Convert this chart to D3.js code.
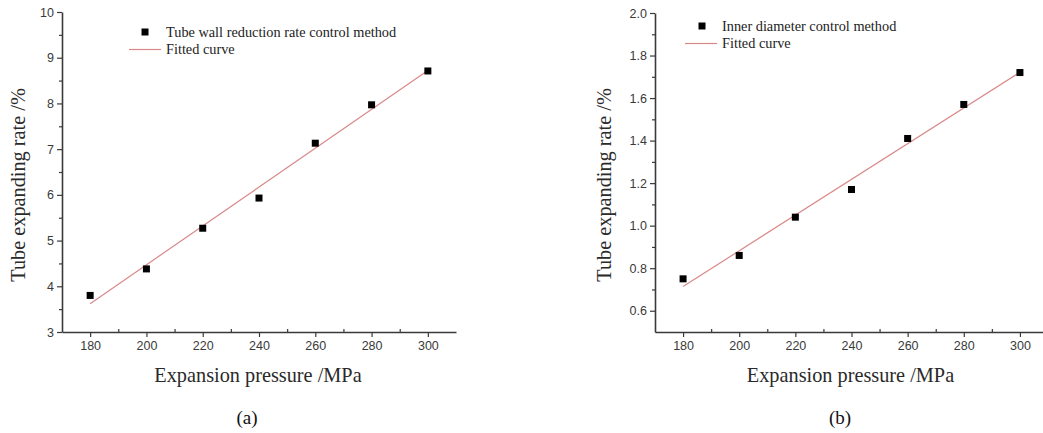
<!DOCTYPE html>
<html>
<head>
<meta charset="utf-8">
<script src="https://cdn.jsdelivr.net/npm/d3@7"></script>
<style>
  body { margin: 0; background: #fff; }
  .tick text { font-family: "Liberation Sans", Arial, sans-serif; font-size: 12.5px; fill: #3a3a3a; }
  .domain, .tick line { stroke: #3a3a3a; }
  .axisTitle { font-family: "Liberation Serif", "Times New Roman", serif; font-size: 20.3px; fill: #2a2a2a; }
  .legendText { font-family: "Liberation Serif", "Times New Roman", serif; font-size: 14.3px; fill: #222; }
  .panelLabel { font-family: "Liberation Serif", "Times New Roman", serif; font-size: 19px; fill: #111; }
</style>
</head>
<body>
<div class="chart"></div>
<script>
// data
var pressure = [180, 200, 220, 240, 260, 280, 300];
var wallRate = [3.80, 4.38, 5.27, 5.93, 7.13, 7.97, 8.71];
var innerRate = [0.75, 0.86, 1.04, 1.17, 1.41, 1.57, 1.72];
// fitted curve end points (at 180 and 300 MPa)
var fitX = [180, 300];
var wallFit = [3.62, 8.72];
var innerFit = [0.714, 1.721];

var xTicks = [180, 200, 220, 240, 260, 280, 300];
var wallTicks = [3, 4, 5, 6, 7, 8, 9, 10];
var innerTicks = [0.6, 0.8, 1.0, 1.2, 1.4, 1.6, 1.8, 2.0];

var svg = d3.select(".chart").append("svg")
  .attr("width", 1043)
  .attr("height", 433);

function drawPanel(opt) {
  var g = svg.append("g");
  var x = d3.scaleLinear().domain([170, 310]).range([opt.left, opt.right]);
  var y = d3.scaleLinear().domain(opt.yDomain).range([opt.bottom, opt.top]);

  // minor ticks
  var xMinor = d3.range(190, 310, 20);
  g.append("g")
    .attr("transform", `translate(0, ${opt.bottom})`)
    .call(d3.axisBottom(x).tickValues(xMinor).tickSize(-3).tickSizeOuter(0).tickFormat(""))
    .call(s => s.select(".domain").remove());
  g.append("g")
    .attr("transform", `translate(${opt.left}, 0)`)
    .call(d3.axisLeft(y).tickValues(opt.yMinor).tickSize(3).tickSizeOuter(0).tickFormat(""))
    .call(s => s.select(".domain").remove());

  var xAxis = g.append("g")
    .attr("transform", `translate(0, ${opt.bottom})`)
    .call(d3.axisBottom(x).tickValues(xTicks).tickSize(5).tickSizeOuter(0).tickPadding(4));
  xAxis.select(".domain").attr("stroke-width", 1.6);

  var yAxis = g.append("g")
    .attr("transform", `translate(${opt.left}, 0)`)
    .call(d3.axisLeft(y).tickValues(opt.yTicks).tickSize(5).tickSizeOuter(0).tickPadding(3)
      .tickFormat(opt.fmt));
  yAxis.select(".domain").attr("stroke-width", 1.6);
  g.selectAll(".tick line").attr("stroke-width", 1.2);

  // fitted line
  var line = d3.line().x(d => x(d[0])).y(d => y(d[1]));
  g.append("path")
    .datum(fitX.map((v, i) => [v, opt.fit[i]]))
    .attr("d", line)
    .attr("fill", "none")
    .attr("stroke", "#d98888")
    .attr("stroke-width", 1.2);

  // points
  g.selectAll(".pt")
    .data(pressure.map((v, i) => [v, opt.values[i]]))
    .enter()
    .append("rect")
    .attr("x", d => x(d[0]) - 3.5)
    .attr("y", d => y(d[1]) - 3.5)
    .attr("width", 7)
    .attr("height", 7)
    .attr("fill", "#000");

  // legend
  g.append("rect")
    .attr("x", opt.legX - 3.5).attr("y", opt.legY - 3.5)
    .attr("width", 7).attr("height", 7).attr("fill", "#000");
  g.append("text").attr("class", "legendText")
    .attr("x", opt.legTextX).attr("y", opt.legY + 4.5)
    .text(opt.legend);
  g.append("line")
    .attr("x1", opt.legLine[0]).attr("x2", opt.legLine[1])
    .attr("y1", opt.legY + 17.5).attr("y2", opt.legY + 17.5)
    .attr("stroke", "#d98888").attr("stroke-width", 1.2);
  g.append("text").attr("class", "legendText")
    .attr("x", opt.legTextX).attr("y", opt.legY + 22)
    .text("Fitted curve");

  // axis titles
  g.append("text").attr("class", "axisTitle")
    .attr("text-anchor", "middle")
    .attr("x", x(240) - 1).attr("y", 382)
    .text("Expansion pressure /MPa");
  g.append("text").attr("class", "axisTitle")
    .attr("text-anchor", "middle")
    .attr("transform", `translate(${opt.yTitleX}, 185) rotate(-90)`)
    .text("Tube expanding rate /%");

  g.append("text").attr("class", "panelLabel")
    .attr("text-anchor", "middle")
    .attr("x", opt.labelX).attr("y", 424)
    .text(opt.label);
}

drawPanel({
  left: 62, right: 456, top: 12, bottom: 332,
  yDomain: [3, 10], yTicks: wallTicks, yMinor: d3.range(3.5, 10, 1),
  fmt: d3.format("d"),
  values: wallRate, fit: wallFit,
  legend: "Tube wall reduction rate control method",
  legX: 145, legY: 32, legTextX: 166, legLine: [129, 161],
  yTitleX: 25, label: "(a)", labelX: 247
});

drawPanel({
  left: 655, right: 1048, top: 13, bottom: 332,
  yDomain: [0.5, 2.0], yTicks: innerTicks, yMinor: d3.range(0.7, 2.0, 0.2),
  fmt: d3.format(".1f"),
  values: innerRate, fit: innerFit,
  legend: "Inner diameter control method",
  legX: 702, legY: 26, legTextX: 722, legLine: [685, 717],
  yTitleX: 611, label: "(b)", labelX: 840
});
</script>
</body>
</html>
